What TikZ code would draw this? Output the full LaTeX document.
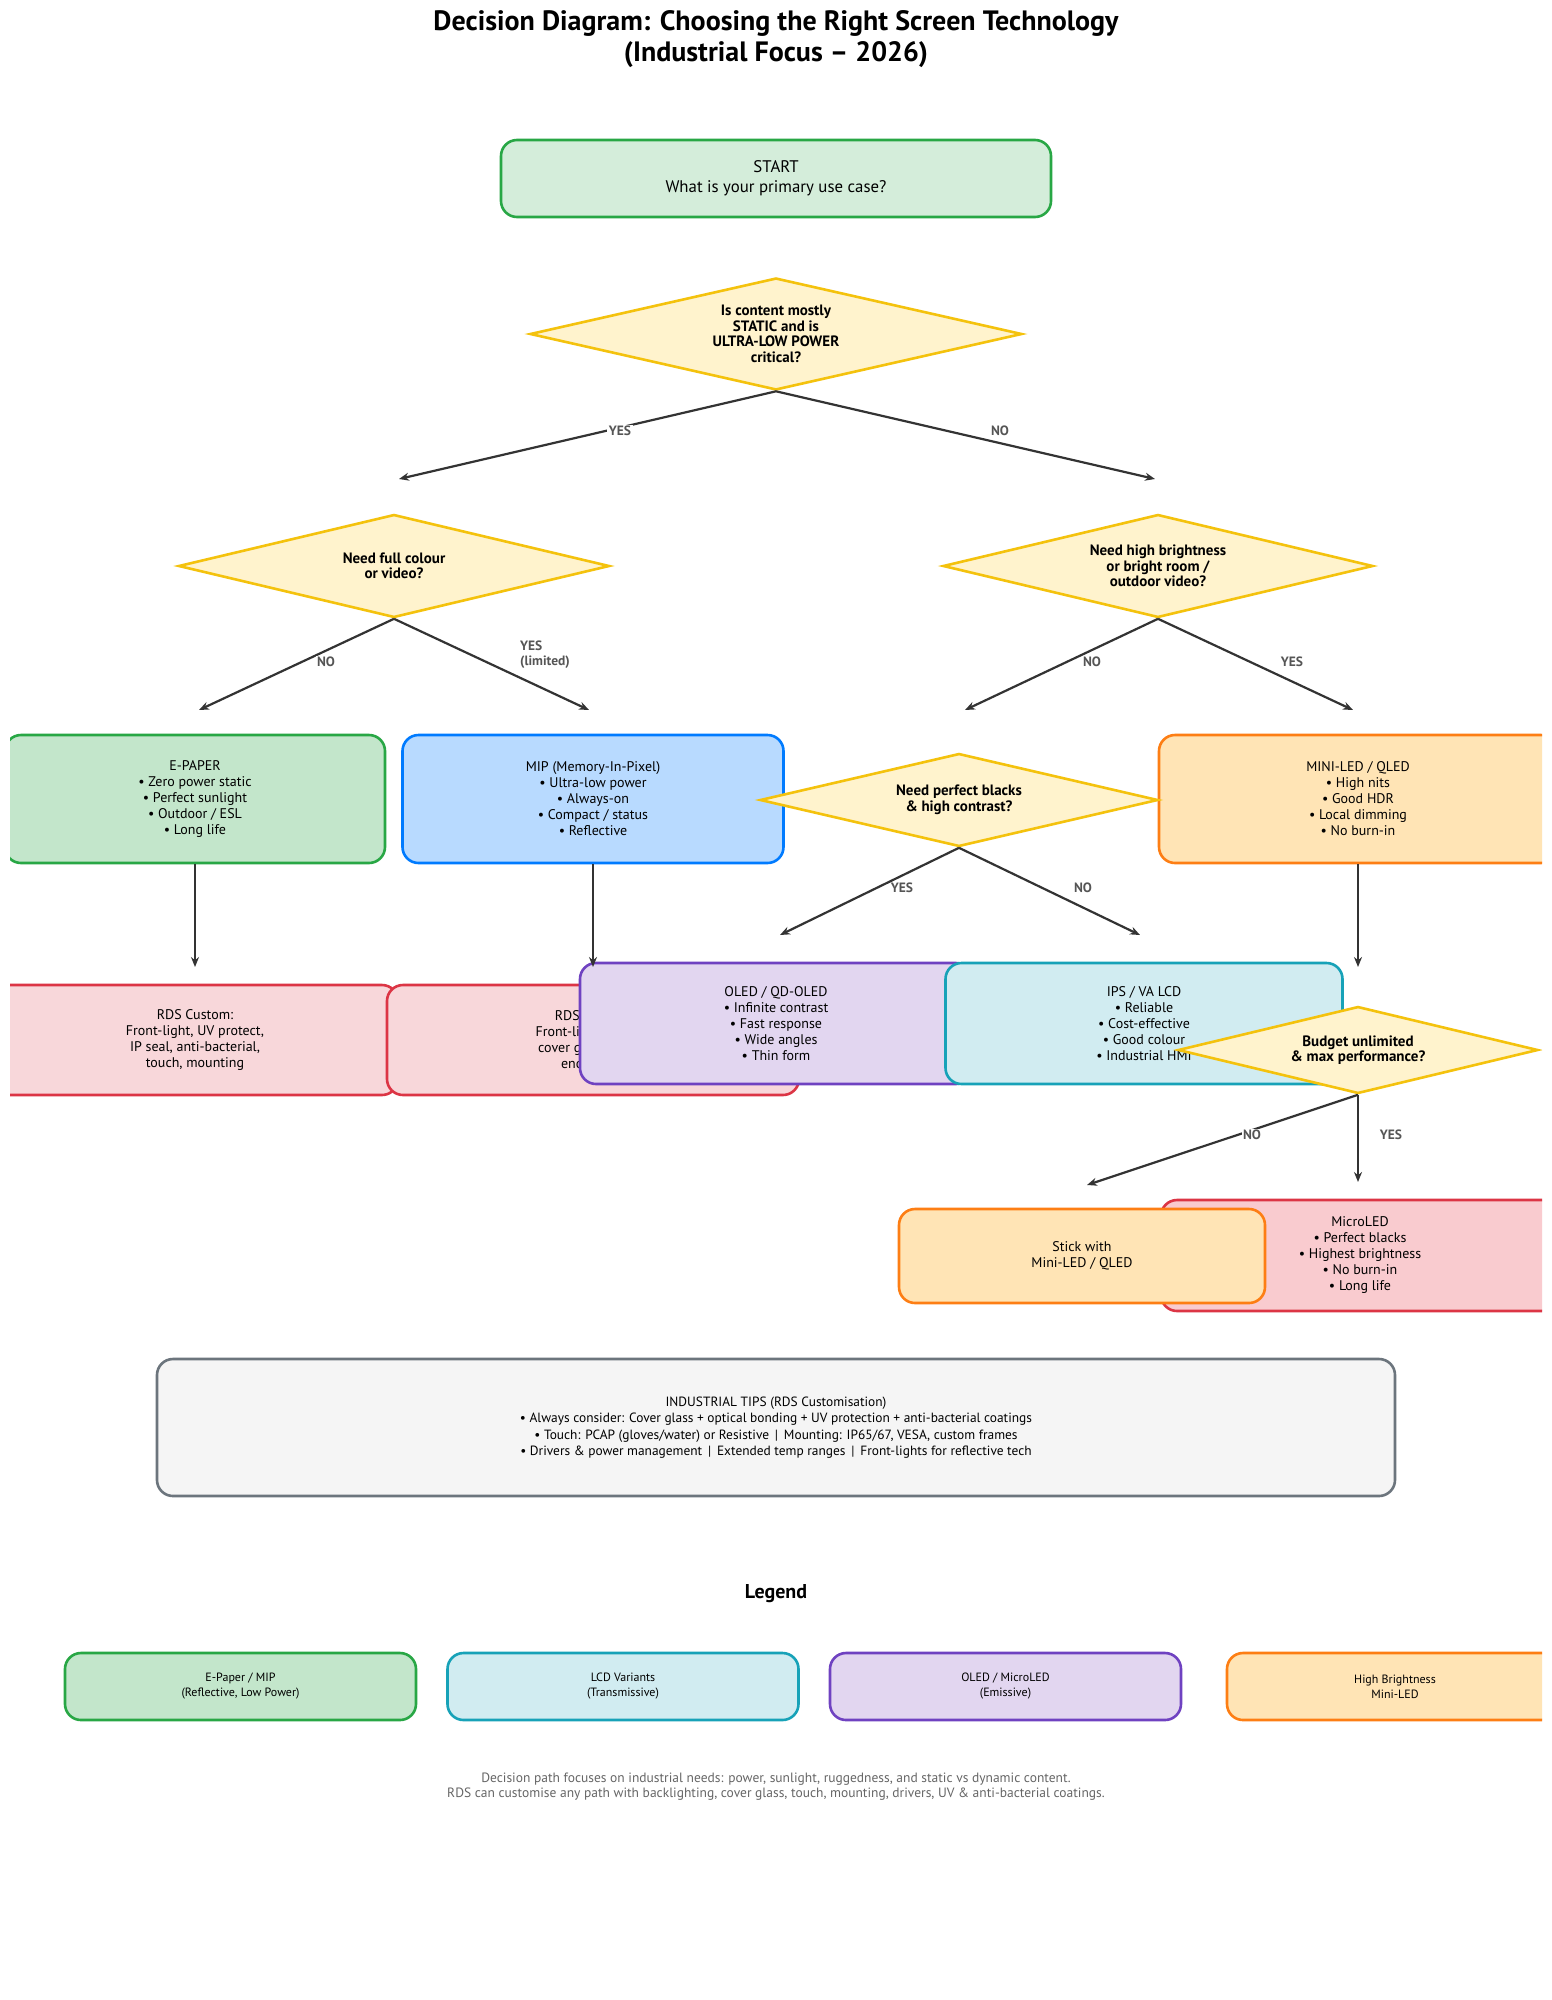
\documentclass[tikz,border=0pt]{standalone}
\usepackage{fontspec}
\setmainfont{PT Sans}
\usetikzlibrary{shapes.geometric,arrows.meta}
\definecolor{grnF}{HTML}{C3E6CB}
\definecolor{grnL}{HTML}{D4EDDA}
\definecolor{grnD}{HTML}{28A745}
\definecolor{bluF}{HTML}{B8DAFF}
\definecolor{bluD}{HTML}{007BFF}
\definecolor{orgF}{HTML}{FFE4B5}
\definecolor{orgD}{HTML}{FD7E14}
\definecolor{redF}{HTML}{F8D7DA}
\definecolor{redM}{HTML}{F9CBCF}
\definecolor{redD}{HTML}{DC3545}
\definecolor{purF}{HTML}{E2D6F0}
\definecolor{purD}{HTML}{6F42C1}
\definecolor{tealF}{HTML}{D1ECF1}
\definecolor{tealD}{HTML}{17A2B8}
\definecolor{yelF}{HTML}{FFF3CD}
\definecolor{yelD}{HTML}{F4C20D}
\definecolor{grayF}{HTML}{F5F5F5}
\definecolor{grayD}{HTML}{6C757D}
\definecolor{arrC}{HTML}{333333}
\definecolor{lblC}{HTML}{555555}
\definecolor{footC}{HTML}{666666}
\begin{document}
\begin{tikzpicture}[x=1pt,y=-1pt,
  box/.style={draw, rounded corners=16pt, line width=2.6pt, align=center, inner sep=0pt,
    font=\fontsize{14}{16}\selectfont},
  dia/.style={diamond, draw=yelD, fill=yelF, line width=2.6pt, inner sep=0pt, align=center,
    font=\bfseries\fontsize{15}{15.5}\selectfont},
  arr/.style={draw=arrC, line width=2.2pt, -{Stealth[length=10pt,width=8pt]}},
  lbl/.style={fill=white, inner sep=1.5pt, text=lblC, font=\bfseries\fontsize{13.5}{15}\selectfont},
  legbox/.style={box, minimum height=67pt, font=\fontsize{12}{15}\selectfont}
]
\useasboundingbox (0,0) rectangle (1552,2000);
\fill[white] (0,0) rectangle (1552,2000);

\node[font=\bfseries\fontsize{28}{31}\selectfont, align=center] (title) at (776,39)
  {Decision Diagram: Choosing the Right Screen Technology\\(Industrial Focus – 2026)};

\begin{scope}
\clip (10,10) rectangle (1542,1990);

\node[box, fill=grnL, draw=grnD, minimum width=550pt, minimum height=77pt,
  font=\fontsize{16.8}{20}\selectfont] (start) at (776,178.5)
  {START\\What is your primary use case?};

\node[dia, minimum width=492pt, minimum height=112pt, aspect=4.39] (d1) at (776,334)
  {Is content mostly\\STATIC and is\\ULTRA-LOW POWER\\critical?};

\node[dia, minimum width=431pt, minimum height=103pt, aspect=4.18] (d2) at (394,566)
  {Need full colour\\or video?};
\node[dia, minimum width=430pt, minimum height=103pt, aspect=4.17] (d3) at (1158,566)
  {Need high brightness\\or bright room /\\outdoor video?};

\node[box, fill=grnF, draw=grnD, minimum width=380pt, minimum height=128pt] (epaper) at (195,799)
  {E-PAPER\\• Zero power static\\• Perfect sunlight\\• Outdoor / ESL\\• Long life};
\node[box, fill=bluF, draw=bluD, minimum width=381pt, minimum height=128pt] (mip) at (593,799)
  {MIP (Memory-In-Pixel)\\• Ultra-low power\\• Always-on\\• Compact / status\\• Reflective};
\node[box, fill=orgF, draw=orgD, minimum width=398pt, minimum height=128pt] (miniled) at (1358,799)
  {MINI-LED / QLED\\• High nits\\• Good HDR\\• Local dimming\\• No burn-in};
\node[dia, minimum width=398pt, minimum height=93pt, aspect=4.28] (d4) at (959,800)
  {Need perfect blacks\\\& high contrast?};

\node[box, fill=redF, draw=redD, minimum width=406pt, minimum height=110pt] (rds1) at (195,1040)
  {RDS Custom:\\Front-light, UV protect,\\IP seal, anti-bacterial,\\touch, mounting};
\node[box, fill=redF, draw=redD, minimum width=412pt, minimum height=110pt] (rds2) at (593,1040)
  {RDS Custom:\\Front-light, drivers,\\cover glass, touch,\\enclosures};
\node[box, fill=purF, draw=purD, minimum width=392pt, minimum height=121pt] (oled) at (776,1023.5)
  {OLED / QD-OLED\\• Infinite contrast\\• Fast response\\• Wide angles\\• Thin form};
\node[box, fill=tealF, draw=tealD, minimum width=397pt, minimum height=121pt] (ips) at (1144,1023.5)
  {IPS / VA LCD\\• Reliable\\• Cost-effective\\• Good colour\\• Industrial HMI};
\node[dia, minimum width=360pt, minimum height=87pt, aspect=4.14] (d5) at (1358,1050)
  {Budget unlimited\\\& max performance?};

\node[box, fill=redM, draw=redD, minimum width=398pt, minimum height=111pt] (microled) at (1360,1255.5)
  {MicroLED\\• Perfect blacks\\• Highest brightness\\• No burn-in\\• Long life};
\node[box, fill=orgF, draw=orgD, minimum width=366pt, minimum height=94pt] (stick) at (1082,1256)
  {Stick with\\Mini-LED / QLED};

\node[box, fill=grayF, draw=grayD, minimum width=1238pt, minimum height=137pt,
  font=\fontsize{13.4}{16.5}\selectfont] (tips) at (776,1427.5)
  {INDUSTRIAL TIPS (RDS Customisation)\\
   • Always consider: Cover glass + optical bonding + UV protection + anti-bacterial coatings\\
   • Touch: PCAP (gloves/water) or Resistive \,|\, Mounting: IP65/67, VESA, custom frames\\
   • Drivers \& power management \,|\, Extended temp ranges \,|\, Front-lights for reflective tech};

\node[font=\bfseries\fontsize{20}{22}\selectfont] (legend) at (776,1594) {Legend};
\node[legbox, fill=grnF, draw=grnD, minimum width=351pt] (lg1) at (240.5,1686.5)
  {E-Paper / MIP\\(Reflective, Low Power)};
\node[legbox, fill=tealF, draw=tealD, minimum width=351pt] (lg2) at (623,1686.5)
  {LCD Variants\\(Transmissive)};
\node[legbox, fill=purF, draw=purD, minimum width=351pt] (lg3) at (1005.5,1686.5)
  {OLED / MicroLED\\(Emissive)};
\node[legbox, fill=orgF, draw=orgD, minimum width=336pt] (lg4) at (1395,1686.5)
  {High Brightness\\Mini-LED};

\node[text=footC, align=center, font=\fontsize{13.5}{15.5}\selectfont] (foot) at (776,1786.5)
  {Decision path focuses on industrial needs: power, sunlight, ruggedness, and static vs dynamic content.\\
   RDS can customise any path with backlighting, cover glass, touch, mounting, drivers, UV \& anti-bacterial coatings.};
\end{scope}

% connector end points
\coordinate (e1) at (399,479);
\coordinate (e2) at (1155,479);
\coordinate (e3) at (199,710);
\coordinate (e4) at (589,710);
\coordinate (e5) at (965,710);
\coordinate (e6) at (1353,710);
\coordinate (e7) at (195,967);
\coordinate (e8) at (593,967);
\coordinate (e9) at (1358,967);
\coordinate (e10) at (780,935);
\coordinate (e11) at (1140,935);
\coordinate (e12) at (1087,1185);
\coordinate (e13) at (1358,1182);

\draw[arr] (d1.south) -- (e1);
\draw[arr] (d1.south) -- (e2);
\draw[arr] (d2.south) -- (e3);
\draw[arr] (d2.south) -- (e4);
\draw[arr] (d3.south) -- (e5);
\draw[arr] (d3.south) -- (e6);
\draw[arr] (epaper.south) -- (e7);
\draw[arr] (mip.south) -- (e8);
\draw[arr] (miniled.south) -- (e9);
\draw[arr] (d4.south) -- (e10);
\draw[arr] (d4.south) -- (e11);
\draw[arr] (d5.south) -- (e12);
\draw[arr] (d5.south) -- (e13);

\node[lbl] (l1) at (620,431) {YES};
\node[lbl] (l2) at (1000,431) {NO};
\node[lbl] (l3) at (326,662) {NO};
\node[lbl, fill=none, align=left] (l4) at (545,655) {YES\\(limited)};
\node[lbl] (l5) at (1092,662) {NO};
\node[lbl, fill=none] (l6) at (1292,662) {YES};
\node[lbl, fill=none] (l7) at (902,888) {YES};
\node[lbl, fill=none] (l8) at (1083,888) {NO};
\node[lbl] (l9) at (1252,1135) {NO};
\node[lbl, fill=none] (l10) at (1391,1135) {YES};
\end{tikzpicture}
\end{document}
